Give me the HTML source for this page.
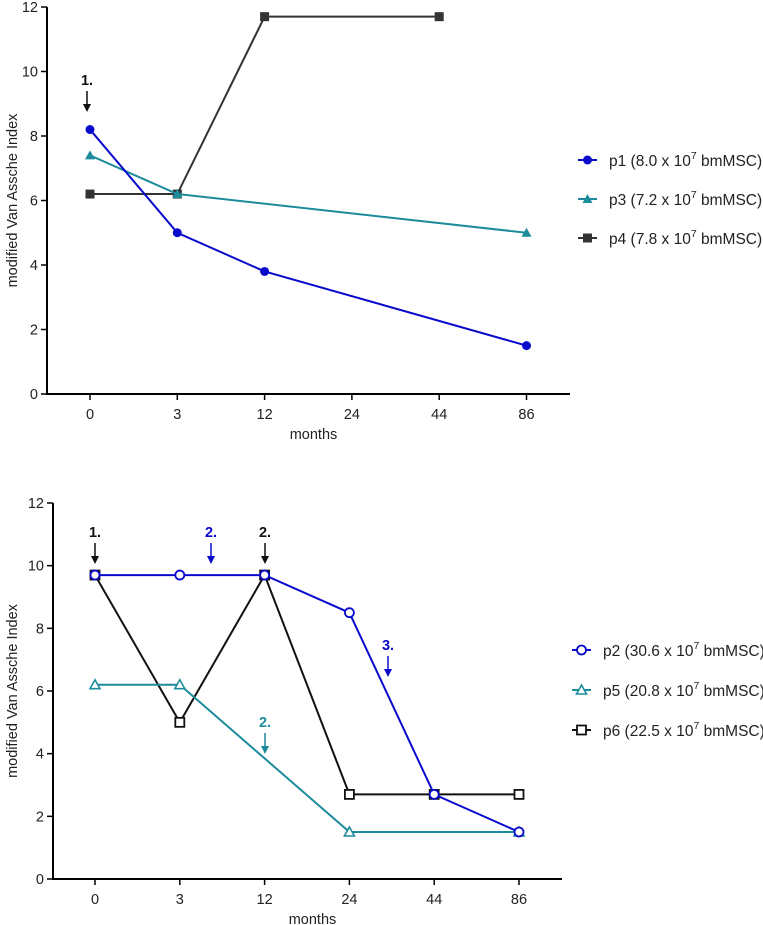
<!DOCTYPE html>
<html><head><meta charset="utf-8"><style>
html,body{margin:0;padding:0;background:#fff;}
svg{display:block;font-family:"Liberation Sans",Arial,sans-serif;}
</style></head><body>
<svg id="c" width="763" height="925" viewBox="0 0 763 925" xmlns="http://www.w3.org/2000/svg"></svg>
<script>
const categories = ["0","3","12","24","44","86"];
const yTicks = [0,2,4,6,8,10,12];
const p1 = [8.2,5.0,3.8,null,null,1.5];
const p3 = [7.4,6.2,null,null,null,5.0];
const p4 = [6.2,6.2,11.7,null,11.7,null];
const p2 = [9.7,9.7,9.7,8.5,2.7,1.5];
const p5 = [6.2,6.2,null,1.5,null,1.5];
const p6 = [9.7,5.0,9.7,2.7,2.7,2.7];

const NS="http://www.w3.org/2000/svg";
const svg=document.getElementById('c');
function mk(tag,attrs,parent){const e=document.createElementNS(NS,tag);for(const k in attrs)e.setAttribute(k,attrs[k]);(parent||svg).appendChild(e);return e;}

const BLUE="#0a0acc",TEAL="#1c8c9c",DARK="#333333",BLACK="#111111";

function panel(cfg){
  const g=mk('g',{});
  
  
  const x=i=>cfg.x0+i*cfg.dx;
  const y=v=>cfg.yb-(v/12)*(cfg.yb-cfg.yt);
  const ax=mk('path',{d:`M${cfg.ax},${cfg.yt} L${cfg.ax},${cfg.yb} L${cfg.axEnd},${cfg.yb}`,fill:'none',stroke:'#000','stroke-width':2},g);
  
  
  yTicks.forEach(t=>{
    mk('line',{x1:cfg.ax-6,x2:cfg.ax,y1:y(t),y2:y(t),stroke:'#000','stroke-width':1.5},g);
    const tx=mk('text',{x:cfg.ax-9,y:y(t)+5,'text-anchor':'end','font-size':14.5,fill:'#222'},g);
    tx.textContent=t;
    
    
  });
  categories.forEach((c,i)=>{
    mk('line',{x1:x(i),x2:x(i),y1:cfg.yb,y2:cfg.yb+6,stroke:'#000','stroke-width':1.5},g);
    const tx=mk('text',{x:x(i),y:cfg.yb+25,'text-anchor':'middle','font-size':14.5,fill:'#222'},g);
    tx.textContent=c;
    
    
  });
  const xt=mk('text',{x:(cfg.ax+cfg.axEnd)/2+5,y:cfg.yb+45,'text-anchor':'middle','font-size':14.5,fill:'#222'},g);
  xt.textContent='months';
  
  
  const yc=(cfg.yt+cfg.yb)/2;
  const yt=mk('text',{x:0,y:0,transform:`translate(17,${yc}) rotate(-90)`,'text-anchor':'middle','font-size':14.5,fill:'#222'},g);
  yt.textContent='modified Van Assche Index';
  
  

  const order=cfg.series.map((s,i)=>i).reverse();
  order.forEach(si=>{
    const s=cfg.series[si];
    const sg=mk('g',{},g);
    
    
    const pts=[];
    s.data.forEach((v,i)=>{if(v!==null)pts.push([x(i),y(v)]);});
    const ln=mk('polyline',{points:pts.map(p=>p.join(',')).join(' '),fill:'none',stroke:s.color,'stroke-width':2},sg);
    
    
    pts.forEach(p=>{const m=marker(s,p[0],p[1],sg);});
  });
  cfg.series.forEach((s,si)=>{
    const ly=cfg.legY+si*cfg.legDy;
    const lg=mk('g',{},g);
    
    
    mk('line',{x1:cfg.legX,x2:cfg.legX+19,y1:ly,y2:ly,stroke:s.color,'stroke-width':2},lg);
    marker(s,cfg.legX+9.5,ly,lg);
    const t=mk('text',{x:cfg.legX+31,y:ly+6,'font-size':15.5,fill:'#222'},lg);
    const parts=s.label.split('^');
    t.appendChild(document.createTextNode(parts[0]));
    const sup=mk('tspan',{dy:-7,'font-size':10.5},t);sup.textContent='7';
    const rest=mk('tspan',{dy:7},t);rest.textContent=parts[1];
  });
  cfg.notes.forEach(n=>{
    const ng=mk('g',{},g);
    
    
    const t=mk('text',{x:n.x,y:n.y,'text-anchor':'middle','font-size':14.5,'font-weight':'bold',fill:n.c},ng);
    t.textContent=n.t;
    mk('line',{x1:n.x,x2:n.x,y1:n.y+6,y2:n.y+22,stroke:n.c,'stroke-width':1.5},ng);
    mk('path',{d:`M${n.x-4},${n.y+19} L${n.x+4},${n.y+19} L${n.x},${n.y+27} Z`,fill:n.c},ng);
  });
}
function marker(s,cx,cy,p){
  const c=s.color;
  if(s.m==='circle') return mk('circle',{cx,cy,r:4.5,fill:c},p);
  if(s.m==='tri') return mk('path',{d:`M${cx},${cy-5} L${cx+5},${cy+4} L${cx-5},${cy+4} Z`,fill:c},p);
  if(s.m==='sq') return mk('rect',{x:cx-4.5,y:cy-4.5,width:9,height:9,fill:c},p);
  if(s.m==='ocircle') return mk('circle',{cx,cy,r:4.5,fill:'#fff',stroke:c,'stroke-width':1.8},p);
  if(s.m==='otri') return mk('path',{d:`M${cx},${cy-5} L${cx+5},${cy+4} L${cx-5},${cy+4} Z`,fill:'#fff',stroke:c,'stroke-width':1.6},p);
  return mk('rect',{x:cx-4.5,y:cy-4.5,width:9,height:9,fill:'#fff',stroke:c,'stroke-width':1.8},p);
}
panel({name:'top-chart',ax:47,axEnd:570,x0:90,dx:87.3,yt:7,yb:394,legX:578,legY:160,legDy:39,
 series:[{data:p1,color:BLUE,m:'circle',label:'p1 (8.0 x 10^ bmMSC)'},
         {data:p3,color:TEAL,m:'tri',label:'p3 (7.2 x 10^ bmMSC)'},
         {data:p4,color:DARK,m:'sq',label:'p4 (7.8 x 10^ bmMSC)'}],
 notes:[{x:87,y:85,t:'1.',c:BLACK}]});
panel({name:'bottom-chart',ax:53,axEnd:562,x0:95,dx:84.8,yt:503,yb:879,legX:572,legY:650,legDy:40,
 series:[{data:p2,color:BLUE,m:'ocircle',label:'p2 (30.6 x 10^ bmMSC)'},
         {data:p5,color:TEAL,m:'otri',label:'p5 (20.8 x 10^ bmMSC)'},
         {data:p6,color:BLACK,m:'osq',label:'p6 (22.5 x 10^ bmMSC)'}],
 notes:[{x:95,y:537,t:'1.',c:BLACK},{x:211,y:537,t:'2.',c:BLUE},{x:265,y:537,t:'2.',c:BLACK},
        {x:265,y:727,t:'2.',c:TEAL},{x:388,y:650,t:'3.',c:BLUE}]});
</script>
</body></html>
